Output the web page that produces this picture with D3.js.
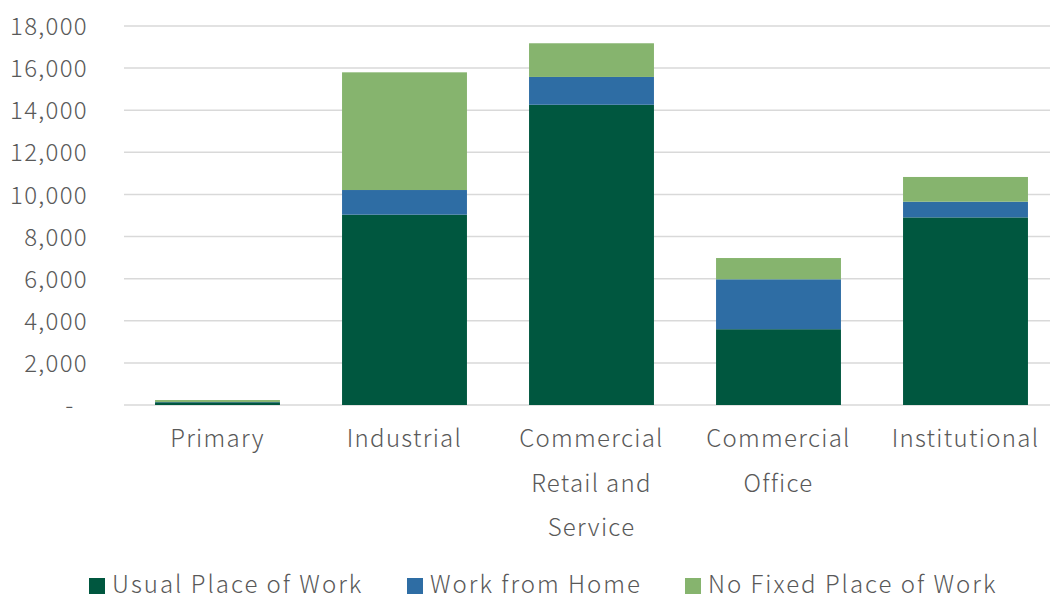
<!DOCTYPE html>
<html>
<head>
<meta charset="utf-8">
<script src="https://cdn.jsdelivr.net/npm/d3@7"></script>
<style>
  html, body { margin: 0; padding: 0; background: #fff; }
  svg text { font-family: "Noto Sans CJK JP", "Noto Sans", sans-serif; font-weight: 300; fill: #595959; letter-spacing: 1.3px; }
  svg text.legend-label { letter-spacing: 2px; }
</style>
</head>
<body>
<svg id="chart" width="1050" height="599"></svg>
<script>
// Workers by place-of-work type, per employment category
const categories = ["Primary", "Industrial", "Commercial Retail and Service", "Commercial Office", "Institutional"];
const categoryLines = [["Primary"], ["Industrial"], ["Commercial", "Retail and", "Service"], ["Commercial", "Office"], ["Institutional"]];
const seriesNames = ["Usual Place of Work", "Work from Home", "No Fixed Place of Work"];
const usualPlace = [130, 9040, 14260, 3600, 8910];
const workFromHome = [15, 1170, 1320, 2370, 745];
const noFixedPlace = [90, 5590, 1600, 1010, 1175];
const yTicks = [0, 2000, 4000, 6000, 8000, 10000, 12000, 14000, 16000, 18000];
const colors = ["#00573F", "#2E6DA4", "#86B46E"];

const svg = d3.select("#chart");

const x = d3.scaleBand().domain(categories).range([124, 1059]).paddingInner(0.332).paddingOuter(0.166);
const y = d3.scaleLinear().domain([0, 18000]).range([405, 26]);

// Gridlines
svg.append("g")
  .selectAll("line")
  .data(yTicks)
  .join("line")
  .attr("x1", 124).attr("x2", 1059)
  .attr("y1", d => y(d)).attr("y2", d => y(d))
  .attr("stroke", "#d9d9d9").attr("stroke-width", 1.5);

// Y axis labels
const fmt = d3.format(",");
const yAxis = d3.axisLeft(y).tickValues(yTicks).tickSize(0).tickPadding(0)
  .tickFormat(d => d === 0 ? "" : fmt(d));
const yG = svg.append("g").attr("transform", "translate(88,0)").call(yAxis);
yG.select(".domain").remove();
yG.selectAll("text").attr("font-size", 24).attr("dy", "0.36em").attr("font-family", null);
svg.append("text").attr("x", 70).attr("y", y(0)).attr("dy", "0.36em")
  .attr("text-anchor", "middle").attr("font-size", 24).text("-");

// Stacked bars
const rows = categories.map((c, i) => ({
  cat: c,
  "Usual Place of Work": usualPlace[i],
  "Work from Home": workFromHome[i],
  "No Fixed Place of Work": noFixedPlace[i]
}));
const stacked = d3.stack().keys(seriesNames)(rows);

svg.append("g")
  .selectAll("g")
  .data(stacked)
  .join("g")
  .attr("fill", (d, i) => colors[i])
  .selectAll("rect")
  .data(d => d)
  .join("rect")
  .attr("x", d => x(d.data.cat))
  .attr("width", x.bandwidth())
  .attr("y", d => y(d[1]))
  .attr("height", d => y(d[0]) - y(d[1]));

// Category labels
const catG = svg.append("g");
categories.forEach((c, i) => {
  const cx = x(c) + x.bandwidth() / 2;
  const t = catG.append("text").attr("text-anchor", "middle").attr("font-size", 24);
  categoryLines[i].forEach((line, j) => {
    t.append("tspan").attr("x", cx).attr("y", 447 + j * 44.5).text(line);
  });
});

// Legend
const legendX = [89, 407, 685];
const legend = svg.append("g");
seriesNames.forEach((name, i) => {
  legend.append("rect").attr("x", legendX[i]).attr("y", 578).attr("width", 16).attr("height", 16).attr("fill", colors[i]);
  legend.append("text").attr("class", "legend-label").attr("x", legendX[i] + 23).attr("y", 593).attr("font-size", 24).text(name);
});
</script>
</body>
</html>
